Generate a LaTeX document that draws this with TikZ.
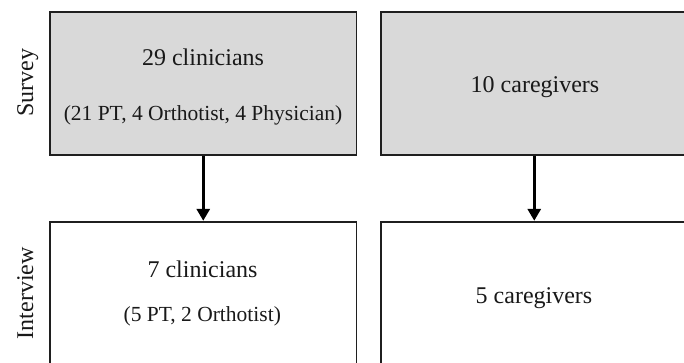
\documentclass[tikz,border=0pt]{standalone}
\usepackage{fontspec}
\setmainfont{Liberation Serif}
\usetikzlibrary{arrows.meta}
\begin{document}
\begin{tikzpicture}[x=1pt,y=-1pt,
  box/.style={draw=black!88,line width=1.8pt,rectangle,minimum width=306.5pt,minimum height=143pt,inner sep=0pt},
  grey/.style={fill=boxgrey},
  big/.style={font=\fontsize{24}{28}\selectfont,inner sep=0pt,anchor=base,text=black!90},
  small/.style={font=\fontsize{21.5}{26}\selectfont,inner sep=0pt,anchor=base,text=black!90},
  side/.style={font=\fontsize{24}{28}\selectfont,inner sep=0pt,anchor=base,rotate=90,text=black!90},
  flow/.style={line width=3pt,black,-{Triangle[length=12pt,width=13pt]}}]
\definecolor{boxgrey}{HTML}{D9D9D9}
\clip (0,0) rectangle (684,362);
\fill[white] (0,0) rectangle (684,362);
\node[box,grey] (tl) at (203.25,83.5) {};
\node[box,grey] (tr) at (534.25,83.5) {};
\node[box] (bl) at (203.25,293.2) {};
\node[box] (br) at (534.25,293.2) {};
\node[big] (t1) at (203,65.7) {29 clinicians};
\node[small] (t2) at (203,120) {(21 PT, 4 Orthotist, 4 Physician)};
\node[big] (t3) at (535,92.3) {10 caregivers};
\node[big] (t4) at (202.5,277.3) {7 clinicians};
\node[small] (t5) at (202.3,321.7) {(5 PT, 2 Orthotist)};
\node[big] (t6) at (534,303.3) {5 caregivers};
\node[side] (s1) at (33,82.5) {Survey};
\node[side] (s2) at (33,293.3) {Interview};
\draw[flow] (tl.south) -- (bl.north);
\draw[flow] (tr.south) -- (br.north);
\end{tikzpicture}
\end{document}
